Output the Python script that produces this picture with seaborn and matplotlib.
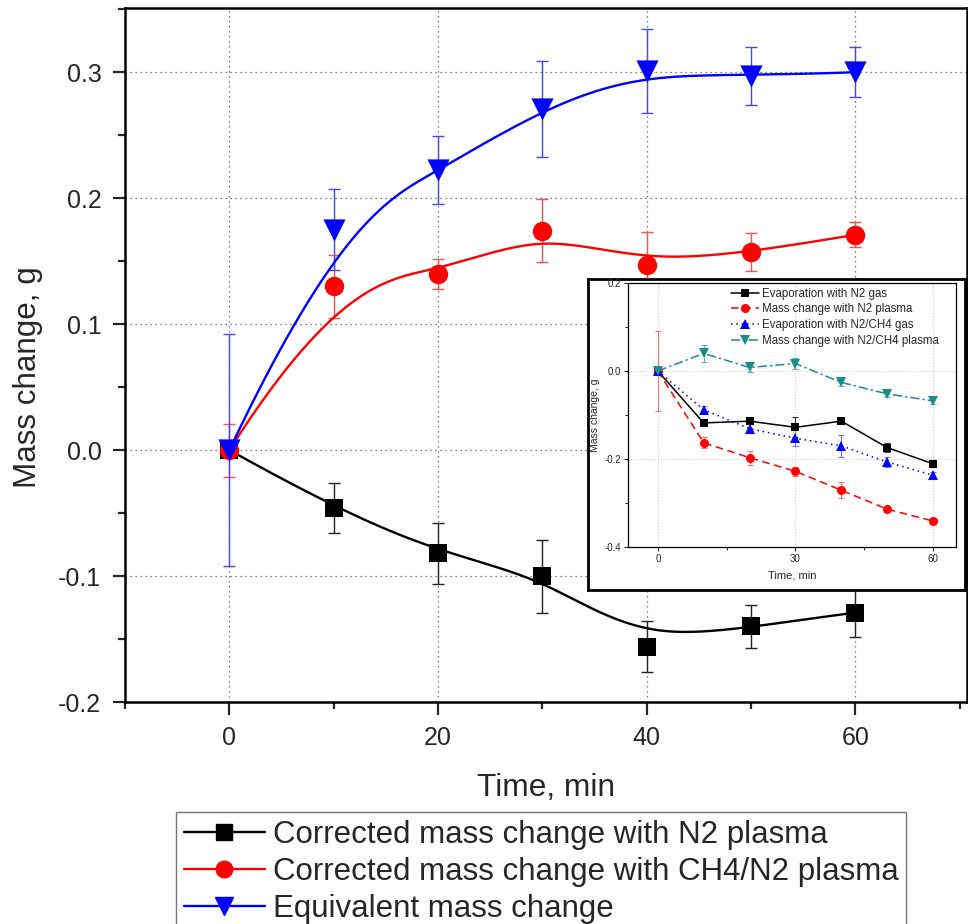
import numpy as np
import pandas as pd
import matplotlib
matplotlib.use("Agg")
import matplotlib.pyplot as plt
from matplotlib.lines import Line2D
from matplotlib.ticker import MultipleLocator
import seaborn as sns

# --- main chart data ---
time_main = [0, 10, 20, 30, 40, 50, 60]
n2_corr = [0.0, -0.046, -0.082, -0.100, -0.156, -0.140, -0.129]
n2_corr_err = [0.004, 0.020, 0.024, 0.029, 0.020, 0.017, 0.019]
ch4_corr = [0.0, 0.130, 0.140, 0.174, 0.147, 0.157, 0.171]
ch4_corr_err = [0.021, 0.025, 0.012, 0.025, 0.026, 0.015, 0.010]
equiv = [0.0, 0.175, 0.222, 0.271, 0.301, 0.297, 0.300]
equiv_err = [0.092, 0.032, 0.027, 0.038, 0.033, 0.023, 0.020]

main_labels = ["Corrected mass change with N2 plasma",
               "Corrected mass change with CH4/N2 plasma",
               "Equivalent mass change"]

# --- inset data ---
time_inset = [0, 10, 20, 30, 40, 50, 60]
evap_n2 = [0.0, -0.118, -0.114, -0.128, -0.114, -0.174, -0.211]
evap_n2_err = [0.005, 0.006, 0.006, 0.023, 0.006, 0.010, 0.008]
plasma_n2 = [0.0, -0.163, -0.197, -0.228, -0.271, -0.314, -0.341]
plasma_n2_err = [0.090, 0.012, 0.016, 0.010, 0.018, 0.006, 0.006]
evap_ch4 = [0.0, -0.088, -0.131, -0.153, -0.170, -0.207, -0.237]
evap_ch4_err = [0.010, 0.008, 0.010, 0.018, 0.025, 0.012, 0.008]
plasma_ch4 = [0.0, 0.040, 0.008, 0.017, -0.026, -0.052, -0.068]
plasma_ch4_err = [0.008, 0.020, 0.010, 0.012, 0.008, 0.006, 0.006]

inset_labels = ["Evaporation with N2 gas", "Mass change with N2 plasma",
                "Evaporation with N2/CH4 gas", "Mass change with N2/CH4 plasma"]


def bspline(xs, ys, n=300, k=3):
    # clamped uniform B-spline with the points as control points
    P = np.column_stack([xs, ys]).astype(float)
    m = len(P)
    knots = np.concatenate([[0] * (k + 1), np.arange(1, m - k), [m - k] * (k + 1)]).astype(float)
    t = np.linspace(0, m - k, n)
    B = np.zeros((n, len(knots) - 1))
    for i in range(len(knots) - 1):
        B[:, i] = (t >= knots[i]) & (t < knots[i + 1])
    B[-1, m - 1] = 1.0
    for p in range(1, k + 1):
        Bn = np.zeros((n, len(knots) - 1 - p))
        for i in range(len(knots) - 1 - p):
            d1 = knots[i + p] - knots[i]
            d2 = knots[i + p + 1] - knots[i + 1]
            a = (t - knots[i]) / d1 * B[:, i] if d1 > 0 else 0
            b = (knots[i + p + 1] - t) / d2 * B[:, i + 1] if d2 > 0 else 0
            Bn[:, i] = a + b
        B = Bn
    C = B @ P
    return pd.DataFrame({"x": C[:, 0], "y": C[:, 1]})


sns.set_style("ticks")
plt.rcParams['font.family'] = ['Liberation Sans', 'DejaVu Sans']

fig = plt.figure(figsize=(9.68, 9.24), dpi=100)
ax = fig.add_axes([125 / 968, 1 - 702 / 924, 842 / 968, 694 / 924])

series = [
    (n2_corr, n2_corr_err, 'black', 's', 13, '#222222'),
    (ch4_corr, ch4_corr_err, 'red', 'o', 14, '#ff5050'),
    (equiv, equiv_err, 'blue', 'v', 16, '#4646ff'),
]
for vals, err, col, mk, ms, ecol in series:
    curve = bspline(time_main, vals)
    ax.errorbar(time_main, vals, yerr=err, fmt='none', ecolor=ecol,
                elinewidth=1, capsize=4.5, capthick=1, zorder=2)
    sns.lineplot(data=curve, x='x', y='y', sort=False, color=col,
                 linewidth=1.7, ax=ax, zorder=3)
    sns.scatterplot(x=time_main, y=vals, marker=mk, s=ms ** 2, color=col,
                    edgecolor=col, linewidth=0, ax=ax, zorder=4)

ax.set_xlim(-10, 70.7)
ax.set_ylim(-0.2, 0.351)
ax.xaxis.set_minor_locator(MultipleLocator(10))
ax.yaxis.set_minor_locator(MultipleLocator(0.05))
ax.set_xticks([0, 20, 40, 60])
ax.set_xticklabels(['0', '20', '40', '60'])
ax.set_yticks([-0.2, -0.1, 0.0, 0.1, 0.2, 0.3])
ax.set_yticklabels(['-0.2', '-0.1', '0.0', '0.1', '0.2', '0.3'])
ax.tick_params(which='major', direction='out', length=9, width=1.6, labelsize=18, pad=8)
ax.tick_params(which='minor', direction='out', length=5, width=1.6)
ax.grid(True, which='major', linestyle=(0, (1, 3)), color='#555555', linewidth=0.9)
for s in ax.spines.values():
    s.set_linewidth(1.8)
    s.set_color('black')
ax.set_xlabel("Time, min", fontsize=22.8, labelpad=17)
ax.set_ylabel("Mass change, g", fontsize=22.6)
ax.yaxis.set_label_coords(-0.097, 0.468)

handles = [Line2D([], [], color=c, marker=m, markersize=ms * 0.85, linewidth=1.7)
           for _, _, c, m, ms, _ in series]
leg = fig.legend(handles, main_labels, loc='upper left',
                 bbox_to_anchor=(176 / 968, 1 - 812 / 924), borderaxespad=0,
                 fontsize=22.5, handlelength=2.6, handletextpad=0.25,
                 labelspacing=0.22, borderpad=0.25, frameon=True, fancybox=False)
leg.get_frame().set_edgecolor('#555555')
leg.get_frame().set_linewidth(1.0)

# --- inset ---
frame = fig.add_axes([588 / 968, 1 - 590 / 924, 377 / 968, 311 / 924])
frame.set_xticks([])
frame.set_yticks([])
frame.set_facecolor('white')
for s in frame.spines.values():
    s.set_linewidth(2)
    s.set_color('black')
frame.set_zorder(5)

ins = fig.add_axes([628 / 968, 1 - 547 / 924, 328 / 968, 264 / 924])
ins.set_zorder(6)
teal = '#1b8c8c'
inset_series = [
    (evap_n2, evap_n2_err, 'black', 's', 6, '-', '#333333'),
    (plasma_n2, plasma_n2_err, 'red', 'o', 6.5, (0, (5, 3)), '#ff7070'),
    (evap_ch4, evap_ch4_err, 'blue', '^', 7, (0, (1, 2.5)), '#7070ff'),
    (plasma_ch4, plasma_ch4_err, teal, 'v', 7, (0, (6, 2, 1.5, 2)), '#60b0b0'),
]
for (vals, err, col, mk, ms, ls, ecol), lab in zip(inset_series, inset_labels):
    ins.errorbar(time_inset, vals, yerr=err, fmt='none', ecolor=ecol,
                 elinewidth=0.8, capsize=2, capthick=0.8, zorder=2)
    sns.lineplot(x=time_inset, y=vals, color=col, linestyle=ls, linewidth=1.1,
                 marker=mk, markersize=ms, markeredgewidth=0, label=lab,
                 ax=ins, zorder=3)

ins.set_xlim(-6.5, 65)
ins.set_ylim(-0.4, 0.2)
ins.set_xticks([0, 30, 60])
ins.xaxis.set_minor_locator(MultipleLocator(15))
ins.set_yticks([-0.4, -0.2, 0.0, 0.2])
ins.set_yticklabels(['-0.4', '-0.2', '0.0', '0.2'])
ins.yaxis.set_minor_locator(MultipleLocator(0.1))
ins.tick_params(which='major', direction='out', length=3, width=0.8, labelsize=7, pad=2)
ins.tick_params(which='minor', direction='out', length=2, width=0.8)
ins.grid(True, which='major', linestyle=(0, (1, 2)), color='#c8c8c8', linewidth=0.7)
for s in ins.spines.values():
    s.set_linewidth(0.9)
    s.set_color('black')
ins.set_xlabel("Time, min", fontsize=8, labelpad=5)
ins.set_ylabel("Mass change, g", fontsize=7.5, labelpad=3)
ins.legend(loc='upper left', bbox_to_anchor=(0.3, 1.0), borderaxespad=0,
           frameon=False, fontsize=8.3, handlelength=2.4, handletextpad=0.3,
           labelspacing=0.32)

fig.savefig("out.png", dpi=100)
